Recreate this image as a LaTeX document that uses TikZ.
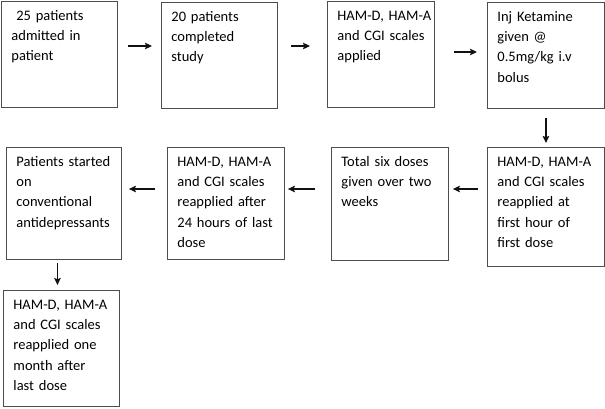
\documentclass[tikz,border=0pt]{standalone}
\usepackage{fontspec}
\setmainfont{Carlito}
\usepackage{xcolor}
\usepackage{tikz}
\usetikzlibrary{arrows.meta,positioning,calc}
\definecolor{bx}{HTML}{4D4D4D}
\definecolor{ar}{HTML}{111111}
\newcommand{\stagefont}{\fontsize{14.5}{20.2}\selectfont\hyphenpenalty=10000\exhyphenpenalty=10000}

\begin{document}
\begin{tikzpicture}[x=1pt, y=-1pt,
  stagebox/.style={draw=bx, line width=0.9pt, anchor=north west, align=left,
    inner xsep=10pt, inner ysep=0pt, text height=19pt, font=\stagefont},
  flow/.style={-{Stealth[length=7pt, width=6.5pt, inset=1.2pt]}, draw=ar, line width=1.2pt}]
  \useasboundingbox (0,0) rectangle (605,408);
  % top row
  \node[stagebox, text width=96pt, text depth=87pt] (admit) at (1,1)
    {\ 25 patients\\admitted in\\patient};
  \node[stagebox, text width=96pt, text depth=87pt] (done) at (161,2)
    {20 patients\\completed\\study};
  \node[stagebox, text width=87pt, text depth=87pt] (scales) at (327,1)
    {\mbox{HAM-D, HAM-A}\\\mbox{and CGI scales}\\applied};
  \node[stagebox, text width=97pt, text depth=87pt] (ketamine) at (487,2)
    {Inj Ketamine\\given @\\0.5mg/kg i.v\\bolus};
  % second row, right to left
  \node[stagebox, text width=97pt, text depth=100pt] (firsthr) at (487,147)
    {HAM-D, HAM-A\\and CGI scales\\reapplied at\\first hour of\\first dose};
  \node[stagebox, text width=97pt, text depth=94pt] (sixdose) at (331,147)
    {Total six doses\\given over two\\weeks};
  \node[stagebox, text width=97pt, text depth=93pt] (after24) at (167,147)
    {HAM-D, HAM-A\\and CGI scales\\reapplied after\\24 hours of last\\dose};
  \node[stagebox, text width=95pt, text depth=93pt] (convent) at (6,147)
    {Patients started\\on\\conventional\\antidepressants};
  % last box
  \node[stagebox, text width=96pt, text depth=97pt] (month) at (3,290)
    {HAM-D, HAM-A\\and CGI scales\\reapplied one\\month after\\last dose};

  \draw[flow, shorten <=10pt, shorten >=9pt]
    ([yshift=-45pt]admit.north east) -- ([yshift=-44pt]done.north west);
  \draw[flow, shorten <=13pt, shorten >=17pt]
    ([yshift=-44pt]done.north east) -- ([yshift=-45pt]scales.north west);
  \draw[flow, shorten <=19pt, shorten >=10pt]
    ([yshift=-51pt]scales.north east) -- ([yshift=-50pt]ketamine.north west);
  \draw[flow, shorten <=9pt, shorten >=4pt] (ketamine.south) -- (firsthr.north);
  \draw[flow, shorten <=9pt, shorten >=4pt]
    ([yshift=-42pt]firsthr.north west) -- ([yshift=-42pt]sixdose.north east);
  \draw[flow, shorten <=16pt, shorten >=3pt]
    ([yshift=-42pt]sixdose.north west) -- ([yshift=-42pt]after24.north east);
  \draw[flow, shorten <=12pt, shorten >=7pt]
    ([yshift=-42pt]after24.north west) -- ([yshift=-42pt]convent.north east);
  \draw[flow, shorten <=3pt, shorten >=5pt]
    ([xshift=-6.5pt]convent.south) -- ([xshift=-4pt]month.north);
\end{tikzpicture}
\end{document}
